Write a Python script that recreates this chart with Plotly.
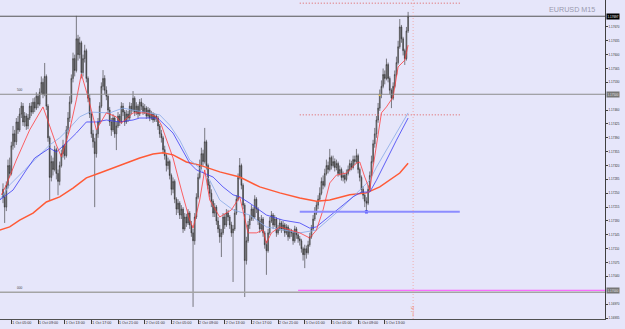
import plotly.graph_objects as go

# ---------------- data (prices in points above 1.17000, 1 point = 0.00001) ----------------
BASE = 1.17000
PT = 1e-5

open_pts = [260,240,215,270,320,300,370,400,380,430,
410,450,470,430,445,420,440,470,455,480,
465,495,475,505,530,500,545,470,390,290,
330,310,360,300,280,320,350,370,345,410,
440,480,540,590,560,640,600,630,555,590,
610,540,490,450,400,380,350,400,430,470,
520,540,510,495,460,430,410,440,400,420,
445,430,470,455,430,450,440,470,460,490,
455,470,450,480,470,455,465,445,460,440,
450,435,445,440,420,400,390,360,345,320,
330,295,260,280,235,210,225,195,210,160,
190,175,200,170,150,130,190,240,290,320,
350,330,380,320,270,250,230,200,215,180,
160,140,150,190,170,200,190,170,150,160,
200,235,290,320,270,220,80,130,170,185,
210,190,235,210,180,160,185,150,120,105,
150,180,195,170,185,150,160,175,160,170,
150,165,140,155,150,130,160,145,135,130,
110,95,110,100,120,140,160,185,200,220,
235,250,280,270,300,320,310,340,320,330,
315,325,300,310,290,295,285,300,310,325,
315,335,330,345,310,290,260,245,230,225,
260,295,330,375,400,435,465,500,520,550,
540,575,540,510,490,520,550,580,620,670,
640,610,590,660]

close_pts = [240,215,270,320,300,370,400,380,430,410,
450,470,430,445,420,440,470,455,480,465,
495,475,505,530,500,545,470,390,290,330,
310,360,300,280,320,350,370,345,410,440,
480,540,590,560,640,600,630,555,590,610,
540,490,450,400,380,350,400,430,470,520,
540,510,495,460,430,410,440,400,420,445,
430,470,455,430,450,440,470,460,490,455,
470,450,480,470,455,465,445,460,440,450,
435,445,440,420,400,390,360,345,320,330,
295,260,280,235,210,225,195,210,160,190,
175,200,170,150,130,190,240,290,320,350,
330,380,320,270,250,230,200,215,180,160,
140,150,190,170,200,190,170,150,160,200,
235,290,320,270,220,80,130,170,185,210,
190,235,210,180,160,185,150,120,105,150,
180,195,170,185,150,160,175,160,170,150,
165,140,155,150,130,160,145,135,130,110,
95,110,100,120,140,160,185,200,220,235,
250,280,270,300,320,310,340,320,330,315,
325,300,310,290,295,285,300,310,325,315,
335,330,345,310,290,260,245,230,225,260,
295,330,375,400,435,465,500,520,550,540,
575,540,510,490,520,550,580,620,670,640,
610,590,660,697]

high_pts = [275,250,280,335,340,380,420,410,440,445,
465,480,478,455,452,450,478,480,490,492,
505,500,515,545,540,579,550,475,395,345,
340,370,365,310,330,360,385,375,420,455,
495,550,605,600,698,650,645,635,600,625,
615,545,500,455,410,390,410,440,480,530,
561,548,520,500,468,440,450,445,430,455,
450,480,478,460,460,458,480,478,508,495,
480,475,488,490,478,475,470,468,465,458,
455,452,450,445,425,410,395,370,350,340,
335,300,290,285,240,235,230,220,215,200,
198,210,205,180,160,200,250,300,335,365,
360,415,385,325,280,260,235,225,220,190,
170,160,200,198,210,208,195,178,170,210,
245,300,339,325,275,225,140,180,195,220,
215,245,240,215,190,195,190,155,130,160,
190,205,200,195,190,170,185,180,180,175,
172,170,162,160,155,168,165,150,142,135,
115,120,118,130,150,170,195,215,230,245,
265,290,295,312,335,330,362,345,345,338,
335,330,320,315,305,300,310,320,335,332,
345,345,362,350,315,295,268,250,240,270,
305,345,385,415,445,478,512,535,565,560,
590,580,545,515,530,560,595,635,690,675,
645,615,670,708]

low_pts = [225,175,205,262,290,295,360,365,372,400,
405,440,420,418,410,412,435,445,450,455,
460,465,470,500,490,495,460,380,233,280,
295,305,285,245,270,315,340,335,340,400,
430,475,530,545,555,585,590,540,545,580,
530,480,440,390,365,215,340,390,425,465,
510,500,485,450,420,395,405,390,359,415,
420,425,445,420,425,430,435,450,455,445,
448,440,445,460,448,450,438,440,432,435,
428,430,430,410,390,378,350,335,305,310,
285,245,250,225,195,200,185,185,150,155,
165,170,160,140,-37,120,185,235,285,310,
320,325,310,260,240,215,190,190,170,150,
125,89,145,160,165,180,160,140,26,155,
195,230,285,260,210,-12,70,125,160,180,
180,185,200,170,150,155,140,110,44,100,
145,175,160,165,140,145,155,150,155,140,
145,130,135,140,120,125,135,125,118,100,
80,61,85,95,115,135,155,180,195,210,
230,245,260,265,295,300,305,310,315,305,
308,292,295,282,280,275,280,295,305,308,
310,322,325,300,280,250,235,215,203,220,
255,290,325,365,390,428,458,490,515,525,
535,530,500,465,485,515,545,575,615,630,
598,574,585,655]

# moving averages, read at sample bars
ma_fast_bar = [-1,2,8,16,24,28,32,35,40,44,47,51,56,62,68,71,78,86,92,95,
               102,107,112,114,118,121,124,130,137,142,147,152,156,158,161,166,172,178,184,188,
               192,196,200,206,212,214,217,220,222,225,227,230,234,237,241,243]
ma_fast_pts = [246,271,334,410,468,417,372,342,410,486,551,493,410,453,443,427,453,453,443,422,
               339,258,182,162,233,309,233,190,208,241,150,150,157,124,150,165,157,150,137,157,
               208,276,296,301,326,329,291,258,316,402,453,468,493,569,586,624]

ma_light_bar = [-2,4,13,20,28,34,40,46,52,64,72,78,88,94,100,106,112,118,124,130,
                138,148,158,168,178,188,202,214,220,224,230,236,243]
ma_light_pts = [233,271,309,339,372,390,415,443,455,453,465,460,453,448,422,384,334,314,283,233,
                208,195,165,157,150,157,208,258,283,316,359,402,453]

ma_blue_bar = [-2,6,14,19,28,32,38,44,50,56,62,70,78,82,92,94,102,110,112,116,
               120,126,132,138,142,148,158,168,178,184,188,198,210,215,220,224,230,236,243]
ma_blue_pts = [233,258,309,339,364,354,377,402,430,430,435,430,435,440,440,435,402,342,326,309,
               301,291,266,246,241,225,195,182,175,162,165,200,241,253,253,283,334,384,440]

ma_slow_bar = [-2,4,10,18,26,34,42,50,58,66,74,82,90,96,102,110,118,130,142,154,
               166,178,188,196,208,218,226,232,238,243]
ma_slow_pts = [157,165,182,200,228,241,263,289,301,314,326,339,349,352,347,329,321,304,291,266,
               251,238,230,233,246,251,266,283,301,326]

time_tick_bars = [5,21,37,53,69,85,101,117,133,149,165,181,197,213,229]
time_tick_labels = ["1 Oct 05:00","1 Oct 09:00","1 Oct 13:00","1 Oct 17:00","1 Oct 21:00",
                    "2 Oct 01:00","2 Oct 05:00","2 Oct 09:00","2 Oct 13:00","2 Oct 17:00",
                    "2 Oct 21:00","5 Oct 01:00","5 Oct 05:00","5 Oct 09:00","5 Oct 13:00"]

# price scale labels (those hidden under the line labels are left out)
price_ticks = [1.16935,1.16970,1.17040,1.17075,1.17110,1.17145,1.17180,1.17215,
               1.17250,1.17285,1.17320,1.17355,1.17390,1.17425,1.17460,1.17530,
               1.17565,1.17600,1.17635,1.17670]

bid_price = 1.17697
level_500 = 1.17500
level_000 = 1.17000
magenta_level = 1.17005
blue_level = 1.17203
red_levels = [1.17730, 1.17448]
levels_start_bar = 178
levels_end_bar = 274
magenta_start_bar = 177
now_bar = 246

# ---------------- figure ----------------
def px(v):
    return [BASE + p * PT for p in v]

bars = list(range(len(close_pts)))
X0, X1 = -1.8, 361.1
Y0, Y1 = 1.169325, 1.17738

fig = go.Figure()
fig.add_trace(go.Candlestick(
    x=bars, open=px(open_pts), high=px(high_pts), low=px(low_pts), close=px(close_pts),
    increasing=dict(line=dict(color='#2e2e2e', width=0.6), fillcolor='#a0a0a0'),
    decreasing=dict(line=dict(color='#2e2e2e', width=0.6), fillcolor='#646464'),
    whiskerwidth=0, showlegend=False, hoverinfo='skip'))

for xs, ys, col, w in [(ma_slow_bar, ma_slow_pts, '#ff5a36', 1.5),
                       (ma_light_bar, ma_light_pts, '#86a8e6', 0.8),
                       (ma_blue_bar, ma_blue_pts, '#3c3cf5', 0.8),
                       (ma_fast_bar, ma_fast_pts, '#ff3c3c', 0.8)]:
    fig.add_trace(go.Scatter(x=xs, y=px(ys), mode='lines', line=dict(color=col, width=w),
                             showlegend=False, hoverinfo='skip'))

fig.add_trace(go.Scatter(x=[218], y=[blue_level], mode='markers',
                         marker=dict(symbol='square', size=3, color='#1e1eff'),
                         showlegend=False, hoverinfo='skip'))
fig.add_trace(go.Scatter(x=[226], y=[BASE + 498 * PT], mode='markers',
                         marker=dict(symbol='square', size=2, color='#e8c040'),
                         showlegend=False, hoverinfo='skip'))

shapes = [
    dict(type='line', xref='paper', x0=0, x1=1, yref='y', y0=bid_price, y1=bid_price,
         line=dict(color='#555555', width=1)),
    dict(type='line', xref='paper', x0=0, x1=1, yref='y', y0=level_500, y1=level_500,
         line=dict(color='#8c8c8c', width=1)),
    dict(type='line', xref='paper', x0=0, x1=1, yref='y', y0=level_000, y1=level_000,
         line=dict(color='#a4a4a4', width=1.3)),
    dict(type='line', xref='x', x0=magenta_start_bar, x1=X1, yref='y', y0=magenta_level, y1=magenta_level,
         line=dict(color='#ff4cff', width=1)),
    dict(type='line', xref='x', x0=levels_start_bar, x1=levels_end_bar, yref='y', y0=blue_level, y1=blue_level,
         line=dict(color='#8c8cff', width=2)),
    dict(type='line', xref='x', x0=now_bar, x1=now_bar, yref='paper', y0=0, y1=1,
         line=dict(color='#f0b0b0', width=1, dash='1px,2px')),
]
for lv in red_levels:
    shapes.append(dict(type='line', xref='x', x0=levels_start_bar, x1=levels_end_bar, yref='y', y0=lv, y1=lv,
                       line=dict(color='#e05a5a', width=1, dash='1px,2px')))

FONT = "Liberation Sans, Arial, sans-serif"
ann = [
    dict(text="EURUSD M15", xref='paper', x=597/605, xanchor='right', yref='paper', y=(319-9)/319,
         yanchor='middle', showarrow=False, font=dict(family=FONT, size=7.2, color='#9a9aae')),
    dict(text="1.17697", xref='paper', x=1, xanchor='left', xshift=1, yref='y', y=bid_price,
         yanchor='middle', showarrow=False, bgcolor='#000000', borderpad=0.6,
         font=dict(family=FONT, size=3, color='#ffffff')),
    dict(text="1.17500", xref='paper', x=1, xanchor='left', xshift=1, yref='y', y=level_500,
         yanchor='middle', showarrow=False, bgcolor='#767676', borderpad=0.6,
         font=dict(family=FONT, size=3, color='#e6e6e6')),
    dict(text="1.17000", xref='paper', x=1, xanchor='left', xshift=1, yref='y', y=level_000 + 0.00004,
         yanchor='middle', showarrow=False, bgcolor='#767676', borderpad=0.6,
         font=dict(family=FONT, size=3, color='#e6e6e6')),
    dict(text="1.17740", xref='paper', x=1, xanchor='left', xshift=3, yref='y', y=1.17740,
         yanchor='middle', showarrow=False, font=dict(family=FONT, size=3, color='#303030')),
    dict(text="500", xref='paper', x=15/605, xanchor='left', yref='y', y=level_500,
         yanchor='bottom', showarrow=False, font=dict(family=FONT, size=3.2, color='#404040')),
    dict(text="000", xref='paper', x=15/605, xanchor='left', yref='y', y=level_000,
         yanchor='bottom', showarrow=False, font=dict(family=FONT, size=3.2, color='#404040')),
    dict(text="1 Oct 01:00", xref='x', x=-11, xanchor='left', xshift=1, yref='paper', y=0,
         yanchor='top', yshift=-2, showarrow=False, font=dict(family=FONT, size=3.7, color='#303030')),
    dict(text="▪▪▪ 1:45", xref='x', x=now_bar, xanchor='center', yref='y', y=BASE - 48 * PT,
         yanchor='middle', textangle=-90, showarrow=False,
         font=dict(family=FONT, size=3.2, color='#f07a5a')),
]

fig.update_layout(
    width=625, height=329,
    margin=dict(l=0, r=20, t=0, b=10, autoexpand=False),
    paper_bgcolor='#E6E6FA', plot_bgcolor='#E6E6FA',
    shapes=shapes, annotations=ann,
    xaxis=dict(range=[X0, X1], rangeslider=dict(visible=False), showgrid=False, zeroline=False,
               showline=True, linecolor='#505050', linewidth=1,
               tickmode='array', tickvals=time_tick_bars, ticktext=time_tick_labels,
               tickangle=0, automargin=False,
               ticks='outside', ticklen=4, tickcolor='#404040', tickwidth=1,
               ticklabelposition='outside right',
               tickfont=dict(family=FONT, size=3.7, color='#303030'), fixedrange=True),
    yaxis=dict(range=[Y0, Y1], side='right', showgrid=False, zeroline=False, automargin=False,
               showline=True, linecolor='#404040', linewidth=1,
               tickmode='array', tickvals=price_ticks, ticktext=[f"{p:.5f}" for p in price_ticks],
               ticks='outside', ticklen=2, tickcolor='#404040',
               tickfont=dict(family=FONT, size=3, color='#303030'), fixedrange=True),
)

fig.write_html("out.html")
